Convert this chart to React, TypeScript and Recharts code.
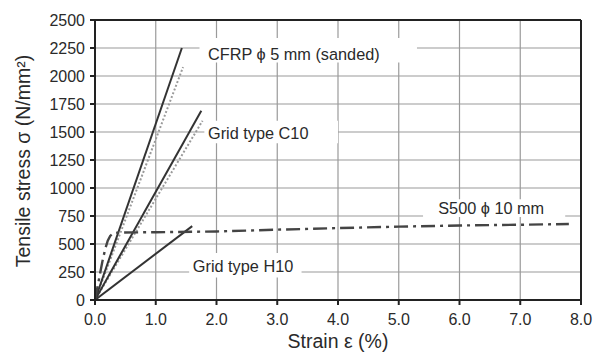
import React from "react";
import {
  LineChart,
  Line,
  XAxis,
  YAxis,
  CartesianGrid,
  ReferenceLine,
  ReferenceArea,
  ReferenceDot,
} from "recharts";

// ---- data ----
const xTicks = [0, 1, 2, 3, 4, 5, 6, 7, 8];
const yTicks = [0, 250, 500, 750, 1000, 1250, 1500, 1750, 2000, 2250, 2500];

const cfrpStrain = [0, 1.43];
const cfrpStress = [0, 2250];
const cfrpTestStrain = [0, 1.45];
const cfrpTestStress = [0, 2080];

const c10Strain = [0, 1.75];
const c10Stress = [0, 1690];
const c10TestStrain = [0, 1.77];
const c10TestStress = [0, 1600];

const h10Strain = [0, 1.6];
const h10Stress = [0, 660];

const s500Strain = [0, 0.06, 0.12, 0.17, 0.21, 0.25, 0.3, 0.4, 1.0, 2.0, 3.0, 4.0, 5.0, 6.0, 7.0, 7.8];
const s500Stress = [0, 170, 340, 460, 530, 572, 595, 603, 605, 612, 628, 642, 655, 665, 672, 678];

const labels = [
  { text: "CFRP \u03d5 5 mm (sanded)", x: 1.86, y: 2196 },
  { text: "Grid type C10", x: 1.86, y: 1491 },
  { text: "Grid type H10", x: 1.61, y: 306 },
  { text: "S500 \u03d5 10 mm", x: 5.65, y: 819 },
];

const masks = [
  { x1: 1.72, x2: 5.3, y1: 2120, y2: 2340 },
  { x1: 1.8, x2: 4.0, y1: 1400, y2: 1600 },
  { x1: 1.55, x2: 3.4, y1: 200, y2: 420 },
  { x1: 5.4, x2: 7.74, y1: 740, y2: 900 },
];

const toPts = (xs: number[], ys: number[]) => xs.map((x, i) => ({ x, y: ys[i] }));

const FONT = '"Liberation Sans", Arial, sans-serif';
const INK = "#2a2a2a";

const AnnLabel = (text: string) => (props: any) => {
  const vb = props.viewBox || {};
  const x = (vb.x ?? 0) + (vb.width ?? 0) / 2;
  const y = (vb.y ?? 0) + (vb.height ?? 0) / 2;
  return (
    <text x={x} y={y} dominantBaseline="central" textAnchor="start" fontSize={16.3} fontFamily={FONT} fill={INK}>
      {text}
    </text>
  );
};

export default function App() {
  return (
    <div style={{ position: "absolute", left: 0, top: 0, background: "#fff" }}>
      <LineChart
        width={601}
        height={353}
        margin={{ top: 20, right: 20, bottom: 0, left: 0 }}
        style={{ fontFamily: FONT }}
      >
        <CartesianGrid stroke="#9a9a9a" strokeWidth={1.2} horizontalValues={yTicks} verticalValues={xTicks} />
        {masks.map((m, i) => (
          <ReferenceArea key={i} x1={m.x1} x2={m.x2} y1={m.y1} y2={m.y2} fill="#fff" fillOpacity={1} stroke="none" />
        ))}
        <XAxis
          type="number"
          dataKey="x"
          domain={[0, 8]}
          ticks={xTicks}
          allowDataOverflow
          height={53}
          tickFormatter={(v: number) => v.toFixed(1)}
          tick={{ fill: INK, fontSize: 16, fontFamily: FONT }}
          tickSize={5}
          tickMargin={9}
          stroke="#222"
          strokeWidth={2}
          label={{
            content: () => (
              <text x={338} y={341} textAnchor="middle" dominantBaseline="central" fontSize={19.5} fontFamily={FONT} fill={INK}>
                Strain ε (%)
              </text>
            ),
          }}
        />
        <YAxis
          type="number"
          domain={[0, 2500]}
          ticks={yTicks}
          allowDataOverflow
          width={95}
          tick={{ fill: INK, fontSize: 16, fontFamily: FONT }}
          tickSize={5}
          tickMargin={5}
          stroke="#222"
          strokeWidth={2}
          label={{
            content: () => (
              <text
                x={23}
                y={161}
                transform="rotate(-90 23 161)"
                textAnchor="middle"
                dominantBaseline="central"
                fontSize={19.5}
                fontFamily={FONT}
                fill={INK}
              >
                Tensile stress σ (N/mm²)
              </text>
            ),
          }}
        />
        <ReferenceLine y={2500} stroke="#222" strokeWidth={2} />
        <ReferenceLine x={8} stroke="#222" strokeWidth={2} />

        <Line data={toPts(cfrpTestStrain, cfrpTestStress)} dataKey="y" stroke="#9a9a9a" strokeWidth={2} strokeDasharray="2 2" dot={false} isAnimationActive={false} />
        <Line data={toPts(c10TestStrain, c10TestStress)} dataKey="y" stroke="#9a9a9a" strokeWidth={2} strokeDasharray="2 2" dot={false} isAnimationActive={false} />
        <Line data={toPts(cfrpStrain, cfrpStress)} dataKey="y" stroke="#333" strokeWidth={2} dot={false} isAnimationActive={false} />
        <Line data={toPts(c10Strain, c10Stress)} dataKey="y" stroke="#333" strokeWidth={2} dot={false} isAnimationActive={false} />
        <Line data={toPts(h10Strain, h10Stress)} dataKey="y" stroke="#333" strokeWidth={2} dot={false} isAnimationActive={false} />
        <Line
          data={toPts(s500Strain, s500Stress)}
          dataKey="y"
          type="linear"
          stroke="#444"
          strokeWidth={2.4}
          strokeDasharray="14 5 3 5"
          dot={false}
          isAnimationActive={false}
        />

        {labels.map((l, i) => (
          <ReferenceDot key={i} x={l.x} y={l.y} r={0} fill="none" stroke="none" label={{ content: AnnLabel(l.text) }} />
        ))}
      </LineChart>
    </div>
  );
}
